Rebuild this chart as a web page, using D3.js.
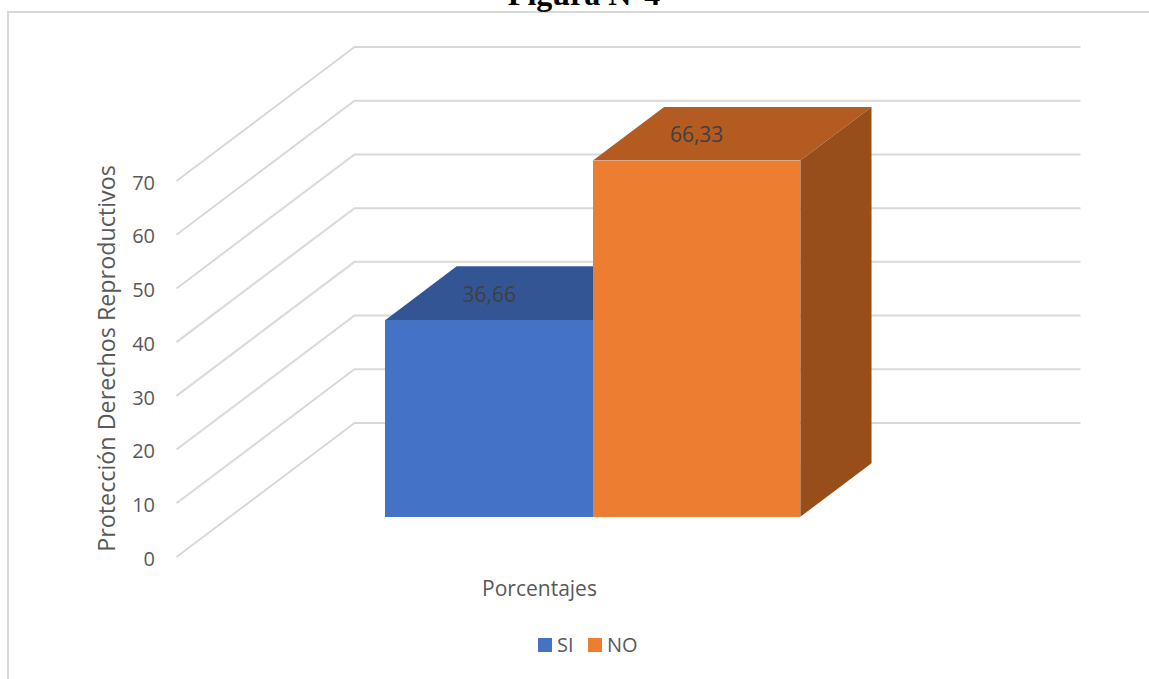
<!DOCTYPE html>
<html>
<head>
<meta charset="utf-8">
<script src="https://cdn.jsdelivr.net/npm/d3@7"></script>
<style>
  html, body { margin: 0; padding: 0; background: #fff; overflow: hidden; }
  svg { display: block; }
  text { font-family: "Open Sans", sans-serif; fill: #595959; }
</style>
</head>
<body>
<div id="chart"></div>
<script>
var categories = ["Porcentajes"];
var seriesNames = ["SI", "NO"];
var seriesValues = [36.66, 66.33];
var valueLabels = ["36,66", "66,33"];
var yTicks = [0, 10, 20, 30, 40, 50, 60, 70];

var width = 1149,
    height = 679;

var colors = {
    SI: { front: "#4472c4", top: "#335593" },
    NO: { front: "#ed7d31", top: "#b45b22", side: "#974e1b" }
};

var svg = d3.select("#chart").append("svg")
    .attr("width", width)
    .attr("height", height);

// outer frame: only top and left edges are inside the page
svg.append("path")
    .attr("d", "M8,679V12H1149")
    .attr("fill", "none")
    .attr("stroke", "#d9d9d9")
    .attr("stroke-width", 2);

svg.append("text")
    .attr("x", 584)
    .attr("y", 5)
    .attr("text-anchor", "middle")
    .style("font-family", "'Liberation Serif', serif")
    .style("font-weight", "bold")
    .style("font-size", "32px")
    .style("fill", "#000")
    .text("Figura N°4");

// front plane of the 3D box
var y = d3.scaleLinear().domain([0, 70]).range([557, 181]);
var x = d3.scaleBand().domain(categories).range([176.5, 902.5]);

// oblique projection: depth 0 is the front plane, 1 the back wall
var depth = d3.scaleLinear().domain([0, 1]);
var depthX = depth.copy().range([0, 178]);
var depthY = depth.copy().range([0, -134]);

function project(px, value, d) {
    return [px + depthX(d), y(value) + depthY(d)];
}

var line = d3.line();

var grid = svg.append("g")
    .attr("fill", "none")
    .attr("stroke", "#d9d9d9")
    .attr("stroke-width", 2);

grid.selectAll("path")
    .data(yTicks)
    .enter().append("path")
    .attr("d", function (t) {
        return line([
            project(x.range()[0], t, 0),
            project(x.range()[0], t, 1),
            project(x.range()[1], t, 1)
        ]);
    });

var axis = d3.axisLeft(y)
    .tickValues(yTicks)
    .tickSize(0)
    .tickPadding(21);

var axisG = svg.append("g")
    .attr("transform", "translate(176,1)")
    .call(axis);
axisG.select(".domain").remove();
axisG.selectAll("text")
    .style("font-size", "20px")
    .attr("dy", ".36em");

// bars sit in the middle of the depth, 150% gap like the default column chart
var depthFront = 0.3,
    depthBack = 0.7,
    gapWidth = 1.5;

var barWidth = x.bandwidth() / (seriesNames.length + gapWidth);
var center = x(categories[0]) + x.bandwidth() / 2;
var xSeries = d3.scaleBand()
    .domain(seriesNames)
    .range([center - barWidth, center + barWidth]);

var bars = svg.selectAll(".bar")
    .data(seriesNames)
    .enter().append("g")
    .attr("class", "bar");

function poly(points) {
    return line(points) + "Z";
}

bars.append("path")
    .attr("fill", function (d) { return colors[d].top; })
    .attr("d", function (d, i) {
        var x0 = xSeries(d), x1 = x0 + xSeries.bandwidth(), v = seriesValues[i];
        return poly([
            project(x0, v, depthFront), project(x0, v, depthBack),
            project(x1, v, depthBack), project(x1, v, depthFront)
        ]);
    });

bars.filter(function (d) { return colors[d].side; })
    .append("path")
    .attr("fill", function (d) { return colors[d].side; })
    .attr("d", function (d) {
        var i = seriesNames.indexOf(d);
        var x1 = xSeries(d) + xSeries.bandwidth(), v = seriesValues[i];
        return poly([
            project(x1, v, depthFront), project(x1, v, depthBack),
            project(x1, 0, depthBack), project(x1, 0, depthFront)
        ]);
    });

// crisp edges so no pale seam shows where the two fronts meet
bars.append("path")
    .attr("fill", function (d) { return colors[d].front; })
    .attr("shape-rendering", "crispEdges")
    .attr("d", function (d, i) {
        var x0 = xSeries(d), x1 = x0 + xSeries.bandwidth(), v = seriesValues[i];
        return poly([
            project(x0, v, depthFront), project(x1, v, depthFront),
            project(x1, 0, depthFront), project(x0, 0, depthFront)
        ]);
    });

// value labels sit on the top face, centred over the front of the bar
svg.selectAll(".value-label")
    .data(seriesNames)
    .enter().append("text")
    .attr("class", "value-label")
    .attr("text-anchor", "middle")
    .attr("dy", ".36em")
    .attr("x", function (d) {
        return project(xSeries(d) + xSeries.bandwidth() / 2, 0, depthFront)[0];
    })
    .attr("y", function (d, i) {
        return project(0, seriesValues[i], 0.5)[1] + 1;
    })
    .style("font-size", "21px")
    .style("fill", "#404040")
    .text(function (d, i) { return valueLabels[i]; });

svg.append("text")
    .attr("transform", "translate(107,358.5) rotate(-90)")
    .attr("text-anchor", "middle")
    .attr("dy", ".36em")
    .style("font-size", "23.3px")
    .text("Protección Derechos Reproductivos");

svg.append("text")
    .attr("x", 539.5)
    .attr("y", 588)
    .attr("text-anchor", "middle")
    .attr("dy", ".36em")
    .style("font-size", "21px")
    .text(categories[0]);

// legend
var legendX = d3.scaleOrdinal().domain(seriesNames).range([538, 588]);

var legend = svg.selectAll(".legend")
    .data(seriesNames)
    .enter().append("g")
    .attr("class", "legend")
    .attr("transform", function (d) { return "translate(" + legendX(d) + ",638)"; });

legend.append("rect")
    .attr("width", 14)
    .attr("height", 14)
    .attr("fill", function (d) { return colors[d].front; });

legend.append("text")
    .attr("x", 19)
    .attr("y", 7)
    .attr("dy", ".36em")
    .style("font-size", "20px")
    .text(function (d) { return d; });
</script>
</body>
</html>
